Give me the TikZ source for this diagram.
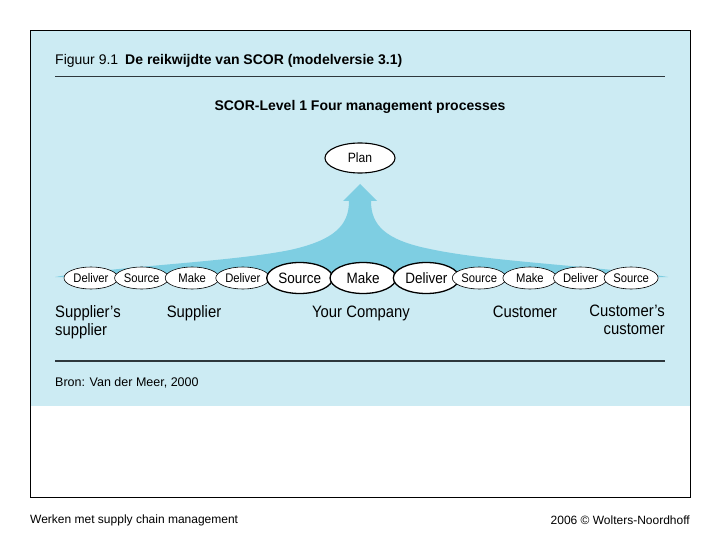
\documentclass[tikz,border=0pt]{standalone}
\usepackage{fontspec}
\setmainfont{Liberation Sans}
\newfontfamily\condfont[FakeStretch=0.9]{Liberation Sans}
\usetikzlibrary{shapes.geometric,positioning}
\definecolor{scorbg}{RGB}{204,235,243}
\definecolor{scorarrow}{RGB}{126,206,226}
\definecolor{rule}{RGB}{45,55,60}

\tikzset{
  proc/.style={draw,ellipse,fill=white,line width=0.6pt,minimum width=54pt,minimum height=22pt,
    inner sep=0pt,font=\condfont\fontsize{12.5}{12.5}\selectfont},
  bigproc/.style={proc,line width=1.3pt,minimum width=66pt,minimum height=31pt,
    font=\condfont\fontsize{15}{15}\selectfont},
  party/.style={font=\condfont\fontsize{16.5}{18}\selectfont,inner sep=0pt}
}

\begin{document}
\begin{tikzpicture}[x=1pt,y=-1pt,node distance=0pt and -4pt]
\useasboundingbox (0,0) rectangle (720,540);
% panel
\fill[scorbg] (30,30) rectangle (690,406);
\draw[line width=0.6pt] (30,30) rectangle (690,497);
\node[anchor=west,inner sep=0pt,font=\fontsize{14}{14}\selectfont] (fig) at (55,61)
  {Figuur 9.1\enspace\textbf{De reikwijdte van SCOR (modelversie 3.1)}};
\draw[rule,line width=0.7pt] (55,76) -- (665,76);
\node[font=\bfseries\fontsize{14}{14}\selectfont] (lvl) at (360,107)
  {SCOR-Level 1 Four management processes};
\node[proc,line width=1.1pt,minimum width=70pt,minimum height=30pt,
  font=\condfont\fontsize{13.5}{13.5}\selectfont] (plan) at (360,158) {Plan};
% arrow up to plan
\fill[scorarrow] (55,277) .. controls (120,266) and (230,262) .. (290,250)
  .. controls (335,240) and (349,225) .. (349,201) -- (343,201) -- (360,184)
  -- (377,201) -- (371,201) .. controls (371,225) and (385,240) .. (430,249)
  .. controls (490,262) and (600,266) .. (668,277) -- cycle;
% process chain
\node[proc] (d1) at (91,278) {Deliver};
\node[proc,right=of d1] (s1) {Source};
\node[proc,right=of s1] (m1) {Make};
\node[proc,right=of m1] (d2) {Deliver};
\node[bigproc,right=of d2] (s2) {Source};
\node[bigproc,right=of s2] (m2) {Make};
\node[bigproc,right=of m2] (d3) {Deliver};
\node[proc,right=-8pt of d3] (s3) {Source};
\node[proc,right=of s3] (m3) {Make};
\node[proc,right=of m3] (d4) {Deliver};
\node[proc,right=of d4] (s4) {Source};
% parties
\node[party,anchor=north west,align=left] (supsup) at (55,305) {Supplier’s\\supplier};
\node[party,anchor=base] (sup) at (194,317) {Supplier};
\node[party,anchor=base] (comp) at (361,317) {Your Company};
\node[party,anchor=base] (cust) at (525,317) {Customer};
\node[party,anchor=north east,align=right] (custcust) at (665,305) {Customer’s\\customer};
% source
\draw[rule,line width=1.6pt] (55,361) -- (665,361);
\node[anchor=west,inner sep=0pt,font=\fontsize{12.5}{13}\selectfont] (bron) at (55,383)
  {Bron: Van der Meer, 2000};
% footer
\node[anchor=west,inner sep=0pt,font=\fontsize{12}{12}\selectfont] (left) at (30,520)
  {Werken met supply chain management};
\node[anchor=east,inner sep=0pt,font=\fontsize{12}{12}\selectfont] (right) at (690,520)
  {2006 © Wolters-Noordhoff};
\end{tikzpicture}
\end{document}
